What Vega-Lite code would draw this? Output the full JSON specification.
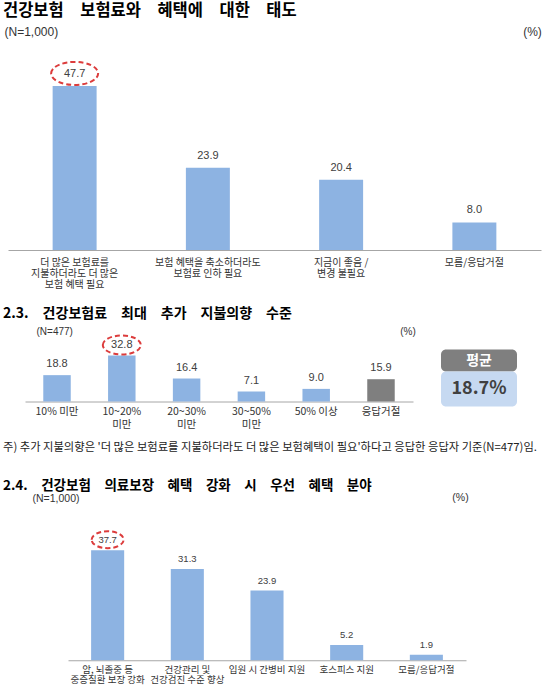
{
  "$schema": "https://vega.github.io/schema/vega-lite/v6.json",
  "background": "white",
  "padding": {"left": 3, "top": 3, "right": 0, "bottom": 0},
  "columns": 1,
  "spacing": 17.5,
  "datasets": {
    "attitude": [
      {"answer": "더 많은 보험료를\n지불하더라도 더 많은\n보험 혜택 필요", "pct": 47.7},
      {"answer": "보험 혜택을 축소하더라도\n보험료 인하 필요", "pct": 23.9},
      {"answer": "지금이 좋음 /\n변경 불필요", "pct": 20.4},
      {"answer": "모름/응답거절", "pct": 8.0}
    ],
    "willingness": [
      {"range": "10% 미만", "pct": 18.8},
      {"range": "10~20%\n미만", "pct": 32.8},
      {"range": "20~30%\n미만", "pct": 16.4},
      {"range": "30~50%\n미만", "pct": 7.1},
      {"range": "50% 이상", "pct": 9.0},
      {"range": "응답거절", "pct": 15.9}
    ],
    "average": [
      {"label": "평균", "share": 0.187}
    ],
    "priority": [
      {"area": "암, 뇌졸중 등\n중증질환 보장 강화", "pct": 37.7},
      {"area": "건강관리 및\n건강검진 수준 향상", "pct": 31.3},
      {"area": "입원 시 간병비 지원", "pct": 23.9},
      {"area": "호스피스 지원", "pct": 5.2},
      {"area": "모름/응답거절", "pct": 1.9}
    ]
  },
  "concat": [
    {
      "title": {"text": "건강보험　보험료와　혜택에　대한　태도", "dx": -5, "offset": 6, "fontSize": 16.5},
      "width": 533,
      "height": 200,
      "data": {"name": "attitude"},
      "encoding": {
        "x": {
          "field": "answer",
          "type": "nominal",
          "sort": null,
          "scale": {"paddingInner": 0.67, "paddingOuter": 0.335},
          "axis": {
            "title": "(N=1,000)",
            "titleX": -4,
            "titleY": -218.5,
            "titleAlign": "left",
            "titleFontSize": 12,
            "labelExpr": "split(datum.label, '\\n')",
            "labelFontSize": 10,
            "labelLineHeight": 11,
            "labelPadding": 7
          }
        },
        "y": {
          "field": "pct",
          "type": "quantitative",
          "scale": {"domain": [0, 58.14], "nice": false},
          "axis": {
            "title": "(%)",
            "titleX": 524,
            "titleY": -18.5,
            "titleFontSize": 12
          }
        }
      },
      "layer": [
        {"mark": {"type": "bar", "color": "#8db3e2"}},
        {
          "mark": {"type": "text", "dy": -12, "fontSize": 11, "color": "#404040", "font": "Liberation Sans"},
          "encoding": {"text": {"field": "pct", "type": "quantitative", "format": ".1f"}}
        },
        {
          "transform": [
            {"joinaggregate": [{"op": "max", "field": "pct", "as": "top"}]},
            {"filter": "datum.pct == datum.top"}
          ],
          "mark": {
            "type": "point",
            "shape": "M-1,0A1,0.49,0,1,1,1,0A1,0.49,0,1,1,-1,0Z",
            "size": 2209,
            "filled": false,
            "opacity": 1,
            "stroke": "#dc3c3c",
            "strokeWidth": 2,
            "strokeDash": [5, 3],
            "yOffset": -12.5
          }
        }
      ]
    },
    {
      "columns": 1,
      "spacing": 11.75,
      "concat": [
        {
          "title": {"text": "2.3.　건강보험료　최대　추가　지불의향　수준", "dx": -5, "offset": 5, "fontSize": 14},
          "spacing": 25,
          "hconcat": [
            {
              "width": 405,
              "height": 52,
              "data": {"name": "willingness"},
              "encoding": {
                "x": {
                  "field": "range",
                  "type": "nominal",
                  "sort": null,
                  "scale": {"range": [17, 405], "paddingInner": 0.576, "paddingOuter": 0.282},
                  "axis": {
                    "title": "(N=477)",
                    "titleX": 28,
                    "titleY": -70.5,
                    "titleAlign": "left",
                    "titleFontSize": 10,
                    "labelExpr": "split(datum.label, '\\n')",
                    "labelFontSize": 10.5,
                    "labelLineHeight": 13,
                    "labelPadding": 4.5
                  }
                },
                "y": {
                  "field": "pct",
                  "type": "quantitative",
                  "scale": {"domain": [0, 37.09], "nice": false},
                  "axis": {
                    "title": "(%)",
                    "titleX": 399.5,
                    "titleY": -18.5,
                    "titleFontSize": 10
                  }
                }
              },
              "layer": [
                {
                  "mark": {"type": "bar"},
                  "encoding": {
                    "color": {
                      "condition": {"test": "datum.range == '응답거절'", "value": "#7f7f7f"},
                      "value": "#8db3e2"
                    }
                  }
                },
                {
                  "mark": {"type": "text", "dy": -11, "fontSize": 11, "color": "#404040", "font": "Liberation Sans"},
                  "encoding": {"text": {"field": "pct", "type": "quantitative", "format": ".1f"}}
                },
                {
                  "transform": [
                    {"joinaggregate": [{"op": "max", "field": "pct", "as": "top"}]},
                    {"filter": "datum.pct == datum.top"}
                  ],
                  "mark": {
                    "type": "point",
                    "shape": "M-1,0A1,0.5,0,1,1,1,0A1,0.5,0,1,1,-1,0Z",
                    "size": 1444,
                    "filled": false,
                    "opacity": 1,
                    "stroke": "#dc3c3c",
                    "strokeWidth": 2,
                    "strokeDash": [5, 3],
                    "yOffset": -10.5
                  }
                }
              ]
            },
            {
              "spacing": 0,
              "vconcat": [
                {
                  "width": 76,
                  "height": 22,
                  "data": {"name": "average"},
                  "view": {"fill": "#7f7f7f", "stroke": null, "cornerRadius": 5},
                  "mark": {"type": "text", "fontSize": 14, "fontWeight": "bold", "color": "white"},
                  "encoding": {"text": {"field": "label", "type": "nominal"}}
                },
                {
                  "width": 76,
                  "height": 35,
                  "data": {"name": "average"},
                  "view": {"fill": "#c6d9f1", "stroke": null, "cornerRadius": 5},
                  "mark": {"type": "text", "fontSize": 18, "fontWeight": "bold", "color": "#404040"},
                  "encoding": {"text": {"field": "share", "type": "quantitative", "format": ".1%"}}
                }
              ]
            }
          ]
        },
        {
          "title": {
            "text": "주) 추가 지불의향은 '더 많은 보험료를 지불하더라도 더 많은 보험혜택이 필요'하다고 응답한 응답자 기준(N=477)임.",
            "subtitle": "2.4.　건강보험　의료보장　혜택　강화　시　우선　혜택　분야",
            "dx": -5,
            "offset": 0.5,
            "fontSize": 11.3,
            "fontWeight": "normal",
            "color": "#222222",
            "subtitleFont": "Noto Sans CJK KR",
            "subtitleFontSize": 13.5,
            "subtitleFontWeight": "bold",
            "subtitleColor": "#000000",
            "subtitlePadding": 25.7
          },
          "width": 458,
          "height": 143,
          "data": {"name": "priority"},
          "encoding": {
            "x": {
              "field": "area",
              "type": "nominal",
              "sort": null,
              "scale": {"range": [60, 458], "paddingInner": 0.585, "paddingOuter": 0.29},
              "axis": {
                "title": "(N=1,000)",
                "titleX": 24,
                "titleY": -161.5,
                "titleAlign": "left",
                "titleFontSize": 10.5,
                "labelExpr": "split(datum.label, '\\n')",
                "labelFontSize": 9.5,
                "labelLineHeight": 10.5,
                "labelPadding": 4
              }
            },
            "y": {
              "field": "pct",
              "type": "quantitative",
              "scale": {"domain": [0, 49.0], "nice": false},
              "axis": {
                "title": "(%)",
                "titleX": 452,
                "titleY": -19.5,
                "titleFontSize": 10.5
              }
            }
          },
          "layer": [
            {"mark": {"type": "bar", "color": "#8db3e2"}},
            {
              "mark": {"type": "text", "dy": -10, "fontSize": 9.5, "color": "#404040", "font": "Liberation Sans"},
              "encoding": {"text": {"field": "pct", "type": "quantitative", "format": ".1f"}}
            },
            {
              "transform": [
                {"joinaggregate": [{"op": "max", "field": "pct", "as": "top"}]},
                {"filter": "datum.pct == datum.top"}
              ],
              "mark": {
                "type": "point",
                "shape": "M-1,0A1,0.53,0,1,1,1,0A1,0.53,0,1,1,-1,0Z",
                "size": 1024,
                "filled": false,
                "opacity": 1,
                "stroke": "#dc3c3c",
                "strokeWidth": 2,
                "strokeDash": [5, 3],
                "yOffset": -10.5
              }
            }
          ]
        }
      ]
    }
  ],
  "config": {
    "view": {"stroke": null},
    "font": "Noto Sans CJK KR",
    "title": {
      "font": "Noto Sans CJK KR",
      "fontSize": 15,
      "fontWeight": "bold",
      "color": "#000000",
      "anchor": "start",
      "frame": "group"
    },
    "axis": {
      "minExtent": 0,
      "grid": false,
      "titleAngle": 0,
      "titleBaseline": "middle",
      "titleFont": "Liberation Sans",
      "titleFontWeight": "normal",
      "titleColor": "#333333",
      "labelColor": "#333333",
      "labelFont": "Noto Sans CJK KR"
    },
    "axisX": {
      "labelAngle": 0,
      "labelOverlap": false,
      "labelLimit": 0,
      "ticks": false,
      "tickSize": 0,
      "domainColor": "#a6a6a6",
      "domainWidth": 1
    },
    "axisY": {
      "domain": false,
      "ticks": false,
      "labels": false,
      "titleAlign": "center"
    }
  }
}
